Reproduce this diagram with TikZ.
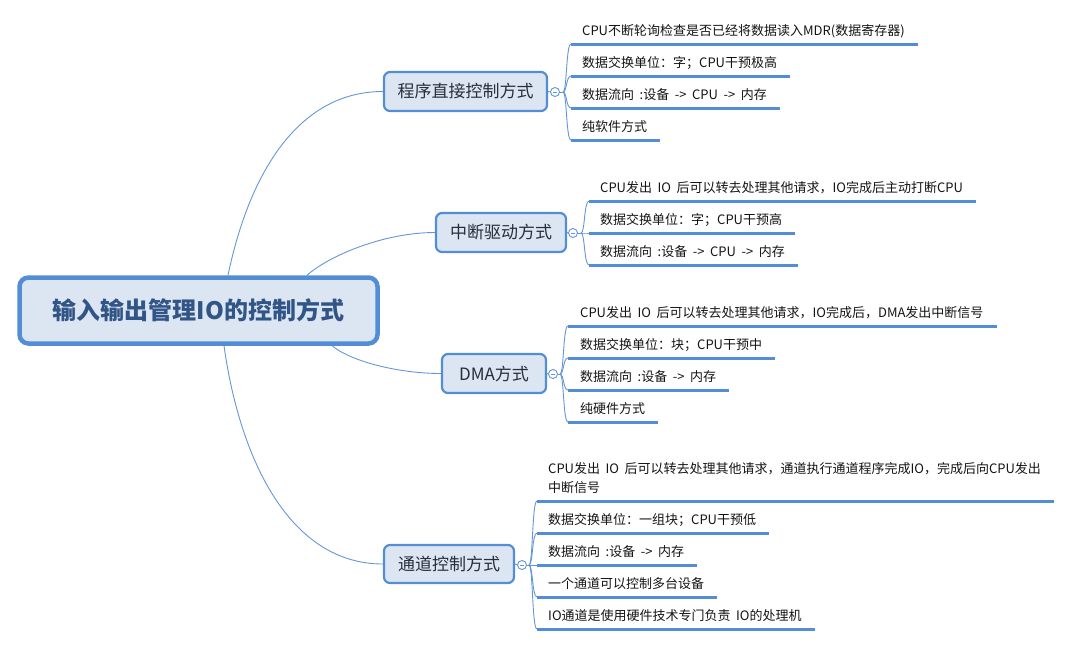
\documentclass[tikz,border=0pt]{standalone}
\usepackage{fontspec}
\setmainfont[WordSpace=1.9]{Noto Sans CJK SC}
\usetikzlibrary{backgrounds}
\definecolor{bbord}{RGB}{83,141,213}
\definecolor{bfill}{RGB}{220,230,242}
\definecolor{lcol}{RGB}{100,150,215}
\definecolor{ucol}{RGB}{83,141,213}
\definecolor{rootc}{RGB}{50,85,135}
\definecolor{btxt}{RGB}{40,45,60}
\definecolor{itxt}{RGB}{20,20,20}
\tikzset{
  rootbox/.style={draw=bbord, line width=4.5pt, fill=bfill, rounded corners=9pt,
    minimum width=358pt, minimum height=66pt, inner sep=0pt,
    font=\fontsize{24pt}{28pt}\selectfont\bfseries, text=rootc},
  branchbox/.style={draw=bbord, line width=2.2pt, fill=bfill, rounded corners=6pt,
    minimum height=39pt, inner sep=0pt,
    font=\fontsize{17pt}{20pt}\selectfont, text=btxt},
  item/.style={anchor=south west, inner xsep=0pt, inner ysep=0pt, text depth=2pt,
    align=left, font=\fontsize{13pt}{19pt}\selectfont, text=itxt},
  uline/.style={draw=ucol, line width=3pt},
  link/.style={draw=lcol, line width=0.9pt},
  toggle/.style={circle, draw=lcol, fill=white, line width=0.9pt, minimum size=9pt, inner sep=0pt},
}
\begin{document}
\begin{tikzpicture}[x=1pt, y=-1pt]
\useasboundingbox (0,0) rectangle (1073,646);

% root and branches
\node[rootbox] (root) at (198.5,310.5) {输入输出管理IO的控制方式};
\node[branchbox, minimum width=163pt] (b1) at (465.5,91.5) {程序直接控制方式};
\node[branchbox, minimum width=130pt] (b2) at (501,232.5) {中断驱动方式};
\node[branchbox, minimum width=104pt] (b3) at (494,373.5) {DMA方式};
\node[branchbox, minimum width=130pt, minimum height=38pt] (b4) at (449,564) {通道控制方式};

% toggles
\node[toggle] (t1) at (555,92) {};
\node[toggle] (t2) at (573,233) {};
\node[toggle] (t3) at (553,374) {};
\node[toggle] (t4) at (522,565) {};
\foreach \t in {t1,t2,t3,t4}
  \draw[link, line width=0.7pt] ([xshift=-2.4pt]\t.center) -- ([xshift=2.4pt]\t.center);

% junctions
\coordinate (j1) at (563,92);
\coordinate (j2) at (581,233);
\coordinate (j3) at (560,374);
\coordinate (j4) at (529,565);

% items branch 1
\node[item] (a11) at (582,38) {CPU不断轮询检查是否已经将数据读入MDR(数据寄存器)};
\node[item] (a12) at (582,70) {数据交换单位：字；CPU干预极高};
\node[item] (a13) at (582,102) {数据流向 :设备 -> CPU -> 内存};
\node[item] (a14) at (582,134) {纯软件方式};
\coordinate (s11) at (571,44);
\coordinate (s12) at (571,76);
\coordinate (s13) at (571,108);
\coordinate (s14) at (571,140);

% items branch 2
\node[item] (a21) at (600,195) {CPU发出 IO 后可以转去处理其他请求，IO完成后主动打断CPU};
\node[item] (a22) at (600,227) {数据交换单位：字；CPU干预高};
\node[item] (a23) at (600,259) {数据流向 :设备 -> CPU -> 内存};
\coordinate (s21) at (589,201);
\coordinate (s22) at (589,233);
\coordinate (s23) at (589,265);

% items branch 3
\node[item] (a31) at (580,320) {CPU发出 IO 后可以转去处理其他请求，IO完成后，DMA发出中断信号};
\node[item] (a32) at (580,352) {数据交换单位：块；CPU干预中};
\node[item] (a33) at (580,384) {数据流向 :设备 -> 内存};
\node[item] (a34) at (580,416) {纯硬件方式};
\coordinate (s31) at (568,326);
\coordinate (s32) at (568,358);
\coordinate (s33) at (568,390);
\coordinate (s34) at (568,422);

% items branch 4
\node[item] (a41) at (548,495) {CPU发出 IO 后可以转去处理其他请求，通道执行通道程序完成IO，完成后向CPU发出\\中断信号};
\node[item] (a42) at (548,527) {数据交换单位：一组块；CPU干预低};
\node[item] (a43) at (548,559) {数据流向 :设备 -> 内存};
\node[item] (a44) at (548,591) {一个通道可以控制多台设备};
\node[item] (a45) at (548,623) {IO通道是使用硬件技术专门负责 IO的处理机};
\coordinate (s41) at (537,501);
\coordinate (s42) at (537,533);
\coordinate (s43) at (537,565);
\coordinate (s44) at (537,597);
\coordinate (s45) at (537,629);

\begin{scope}[on background layer]
  % root to branches
  \draw[link] ([xshift=29.5pt]root.north) .. controls (250,170) and (300,91.5) .. (b1.west);
  \draw[link] ([xshift=108.5pt]root.north) .. controls (330,255) and (385,232.5) .. (b2.west);
  \draw[link] ([xshift=133.5pt]root.south) .. controls (352,362) and (400,373.5) .. (b3.west);
  \draw[link] ([xshift=25.5pt]root.south) .. controls (240,460) and (290,564) .. (b4.west);
  % branch to toggle to junction
  \draw[link] (b1.east) -- (t1.west); \draw[link] (t1.east) -- (j1);
  \draw[link] (b2.east) -- (t2.west); \draw[link] (t2.east) -- (j2);
  \draw[link] (b3.east) -- (t3.west); \draw[link] (t3.east) -- (j3);
  \draw[link] (b4.east) -- (t4.west); \draw[link] (t4.east) -- (j4);
  % fans
  \foreach \s in {s11,s12,s13,s14}
    \draw[link] (j1) .. controls +(4,0) and +(-5,0) .. (\s);
  \foreach \s in {s21,s22,s23}
    \draw[link] (j2) .. controls +(4,0) and +(-5,0) .. (\s);
  \foreach \s in {s31,s32,s33,s34}
    \draw[link] (j3) .. controls +(4,0) and +(-5,0) .. (\s);
  \foreach \s in {s41,s42,s43,s44,s45}
    \draw[link] (j4) .. controls +(4,0) and +(-5,0) .. (\s);
\end{scope}

% underlines
\foreach \i in {11,12,13,14,21,22,23,31,32,33,34,41,42,43,44,45}
  \draw[uline] (s\i) -- ([xshift=13pt,yshift=-6pt]a\i.south east);
\end{tikzpicture}
\end{document}
